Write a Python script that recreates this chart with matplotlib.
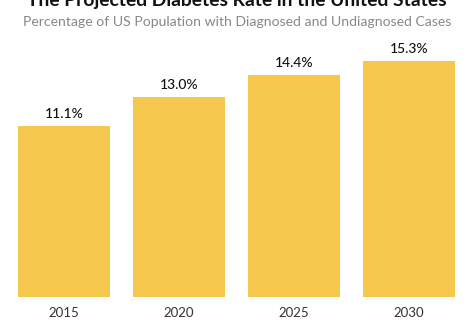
import matplotlib
matplotlib.use("Agg")
import matplotlib.pyplot as plt

years = ["2015", "2020", "2025", "2030"]
rates = [11.1, 13.0, 14.4, 15.3]
value_labels = ["11.1%", "13.0%", "14.4%", "15.3%"]

title = "The Projected Diabetes Rate in the United States"
subtitle = "Percentage of US Population with Diagnosed and Undiagnosed Cases"

plt.rcParams["font.family"] = ["Lato", "DejaVu Sans"]

W, H = 474, 324
fig = plt.figure(figsize=(W / 100, H / 100), dpi=100)
fig.patch.set_facecolor("white")

ax = fig.add_axes([6.5 / W, 27 / H, 460 / W, 246.4 / H])
x = range(len(years))
ax.bar(x, rates, width=0.8, color="#F5C74C")
ax.set_xlim(-0.5, 3.5)
ax.set_ylim(0, 16)

for xi, r, lab in zip(x, rates, value_labels):
    ax.annotate(lab, (xi, r), xytext=(0, 4.5), textcoords="offset points",
                ha="center", va="bottom", fontsize=10, fontweight="medium",
                color="#111111")

ax.set_xticks(list(x))
ax.set_xticklabels(years, fontsize=9.5, color="#333333")
ax.tick_params(axis="x", length=0, pad=7)
ax.set_yticks([])
for s in ax.spines.values():
    s.set_visible(False)

fig.text(237 / W, (H - 6) / H, title, ha="center", va="baseline",
         fontsize=13.9, fontweight="bold", color="#111111")
fig.text(237 / W, (H - 26.5) / H, subtitle, ha="center", va="baseline",
         fontsize=10.05, color="#888888")

fig.savefig("out.png", dpi=100, facecolor="white")
